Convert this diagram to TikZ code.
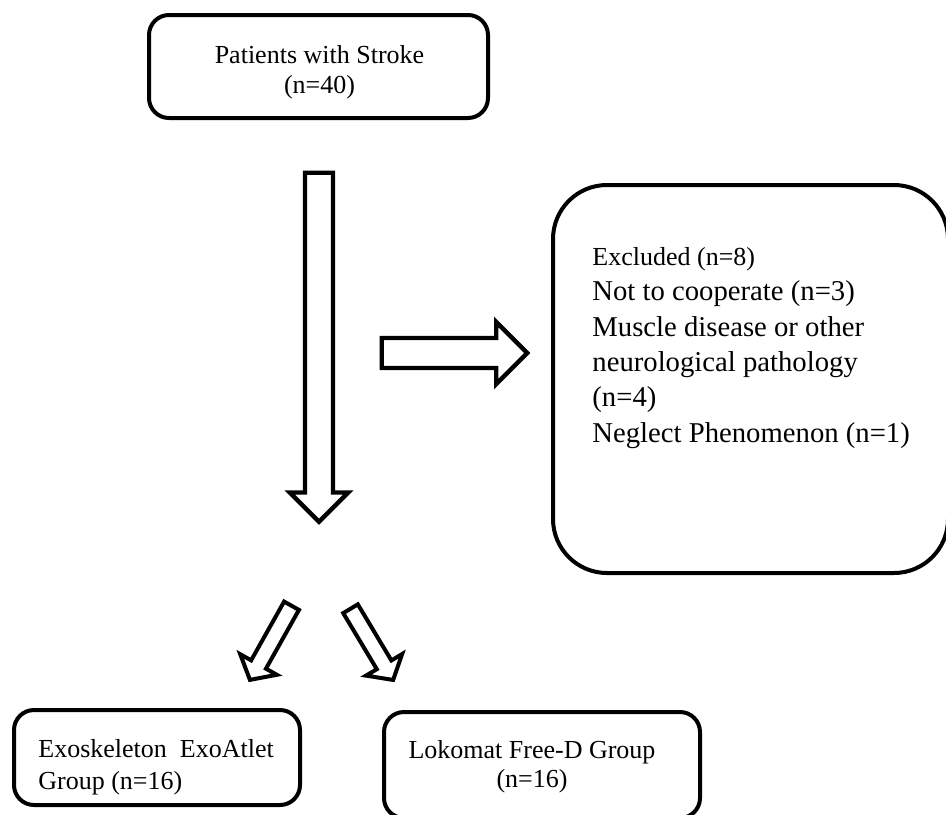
\documentclass[tikz,border=0pt]{standalone}
\usepackage{fontspec}
\setmainfont{Liberation Serif}
\usetikzlibrary{shapes.arrows}

\begin{document}
\begin{tikzpicture}[x=0.5pt,y=-0.5pt]
            \tikzstyle{every node}+=[inner sep=0pt]
            \tikzstyle{box}=[draw, line width=2pt, rounded corners=10pt]
            \tikzstyle{blockarr}=[draw, fill=white, single arrow, inner xsep=0pt, anchor=tail, line width=2.2pt]
            \useasboundingbox (0,0) rectangle (946,814);
            \node [box, minimum width=169.5pt, minimum height=51.5pt] (stroke) at (318.5,66.5) {};
            \node [align=center, font=\fontsize{13}{15}\selectfont, anchor=base] (strokeTxt) at (319.5,93) {Patients with Stroke\\(n=40)};
            \node [box, rounded corners=27pt, minimum width=197.5pt, minimum height=194pt] (excl) at (750.5,379) {};
            \node [align=left, font=\fontsize{14.35}{17.65}\selectfont, anchor=base west] (exclTxt) at (592,442) {{\fontsize{13}{17.65}\selectfont Excluded (n=8)}\\Not to cooperate (n=3)\\Muscle disease or other\\neurological pathology\\(n=4)\\Neglect Phenomenon (n=1)};
            \node [box, minimum width=143pt, minimum height=47.5pt] (exo) at (157,757.5) {};
            \node [align=left, font=\fontsize{13}{16}\selectfont, anchor=base west] (exoTxt) at (38,789) {Exoskeleton\ \ ExoAtlet\\Group (n=16)};
            \node [box, minimum width=158pt, minimum height=53pt] (loko) at (542,765) {};
            \node [align=center, font=\fontsize{13}{14.5}\selectfont, anchor=base] (lokoTxt) at (532,787) {Lokomat Free-D Group\\(n=16)};
            \node [blockarr, rotate=-90, inner ysep=5.9pt, single arrow head extend=7.6pt, minimum height=174.5pt] (arrDown) at (319,170.5) {};
            \node [blockarr, inner ysep=6.4pt, single arrow head extend=8pt, minimum height=72.75pt] (arrExcl) at (379.5,353) {};
            \node [blockarr, line width=2pt, rotate=-119.3, inner ysep=3.25pt, single arrow head extend=6.25pt, single arrow tip angle=100, minimum height=42.5pt] (arrExo) at (292.5,604) {};
            \node [blockarr, line width=2pt, rotate=-59.1, inner ysep=3.25pt, single arrow head extend=6.25pt, single arrow tip angle=100, minimum height=41.5pt] (arrLoko) at (349.5,607) {};
        \end{tikzpicture}
\end{document}
